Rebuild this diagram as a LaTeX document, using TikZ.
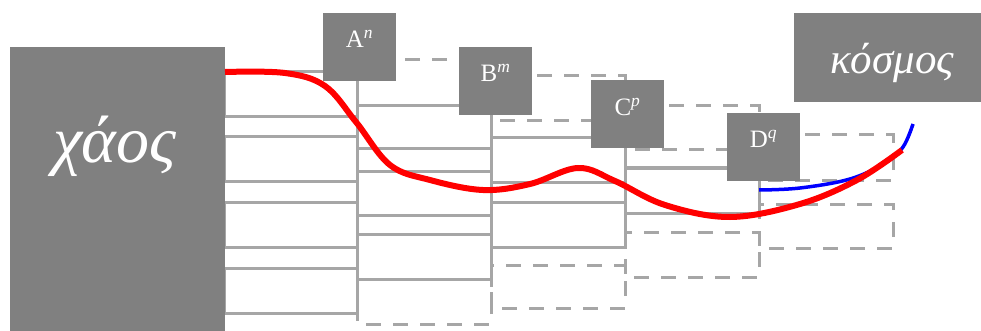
\documentclass[tikz,border=0pt]{standalone}
\usepackage{fontspec}
\setmainfont{Liberation Serif}
\definecolor{boxgray}{RGB}{128,128,128}
\definecolor{linegray}{RGB}{166,166,166}
\definecolor{curvered}{RGB}{255,0,0}
\definecolor{curveblue}{RGB}{0,0,255}
\begin{document}
\begin{tikzpicture}[x=1pt,y=-1pt,
  solidline/.style={draw=linegray, line width=3pt},
  dashline/.style={draw=linegray, line width=3pt, dash pattern=on 15pt off 12pt},
  stagebox/.style={fill=boxgray, draw=none, minimum width=73pt, minimum height=68pt,
    inner sep=0pt, text=white, font=\fontsize{25}{28}\selectfont,
    text height=12pt, text depth=10pt},
  bigbox/.style={fill=boxgray, draw=none, inner sep=0pt},
  biglabel/.style={text=white, inner sep=0pt, font=\itshape},
  redcurve/.style={draw=curvered, line width=6pt, line cap=butt},
  bluecurve/.style={draw=curveblue, line width=3.5pt, line cap=butt}
]
\useasboundingbox (0,0) rectangle (981,331);

% column 1
\draw[solidline] (224,72) rectangle (357,117);
\draw[solidline] (224,137) rectangle (357,181);
\draw[solidline] (224,202) rectangle (357,247);
\draw[solidline] (224,268) rectangle (357,313);
% column 2
\draw[dashline] (357,60) rectangle (491,106);
\draw[dashline] (357,279) rectangle (491,324);
\draw[solidline] (357,106) rectangle (491,149);
\draw[solidline] (357,171) rectangle (491,215);
\draw[solidline] (357,234) rectangle (491,279);
% column 3
\draw[dashline] (491,76) rectangle (625,121);
\draw[dashline] (491,265) rectangle (625,308);
\draw[solidline] (491,138) rectangle (625,182);
\draw[solidline] (491,202) rectangle (625,247);
% column 4
\draw[dashline] (625,106) rectangle (759,150);
\draw[dashline] (625,232) rectangle (759,277);
\draw[solidline] (625,168) rectangle (759,213);
% column 5
\draw[dashline] (759,135) rectangle (893,180);
\draw[dashline] (759,204) rectangle (893,248);

% boxes
\node[bigbox, minimum width=215pt, minimum height=284pt, anchor=north west] (chaos) at (10,47) {};
\node[biglabel, font=\fontsize{66}{72}\selectfont\itshape] (chaoslabel) at (115,146) {χάος};
\node[bigbox, minimum width=187pt, minimum height=89pt, anchor=north west] (kosmos) at (794,13) {};
\node[biglabel, font=\fontsize{43}{48}\selectfont\itshape] (kosmoslabel) at (892,63) {κόσμος};

\node[stagebox] (A) at (359.5,47) {A\textsuperscript{\itshape n}};
\node[stagebox] (B) at (495.5,81) {B\textsuperscript{\itshape m}};
\node[stagebox] (C) at (627.5,114.5) {C\textsuperscript{\itshape p}};
\node[stagebox] (D) at (763.5,147) {D\textsuperscript{\itshape q}};

% curves
\draw[bluecurve] plot[smooth, tension=0.6] coordinates {(759,190) (800,188) (850,179) (885,163) (903,147) (913,124)};
\draw[redcurve] plot[smooth, tension=0.6] coordinates {(225,72) (285,73) (325,86) (356,122) (390,165) (430,180) (483,190) (530,184) (578,168) (615,181) (665,205) (730,217) (800,204) (857,180) (902,150)};
\end{tikzpicture}
\end{document}
